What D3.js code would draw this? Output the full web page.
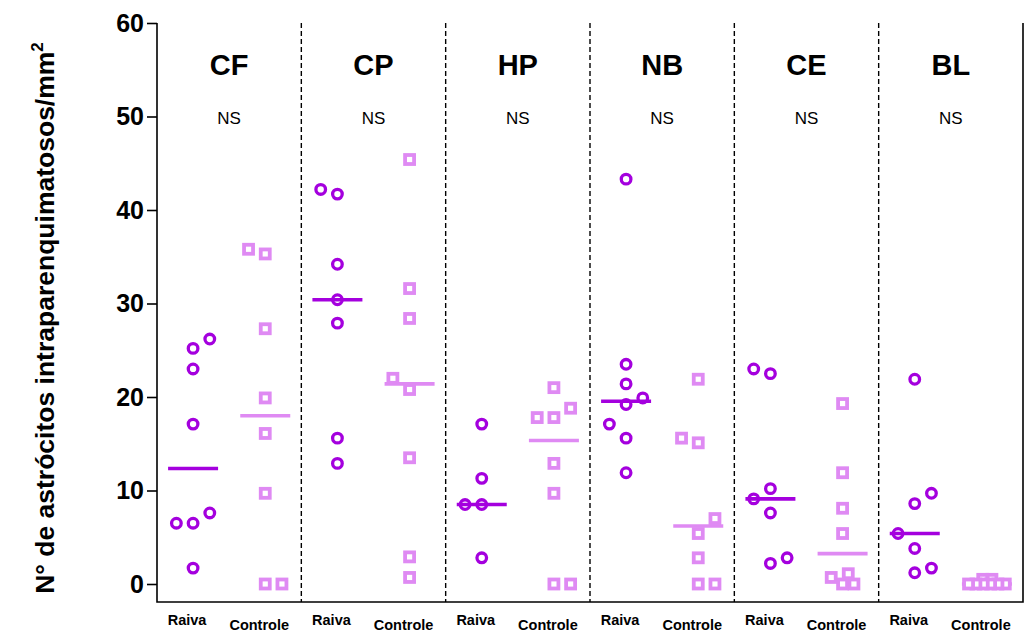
<!DOCTYPE html>
<html>
<head>
<meta charset="utf-8">
<script src="https://cdn.jsdelivr.net/npm/d3@7"></script>
<style>
  html, body { margin: 0; padding: 0; background: #fff; }
  svg { display: block; font-family: "Liberation Sans", Arial, sans-serif; }
</style>
</head>
<body>
<svg id="chart" width="1026" height="635"></svg>
<script>
// Brain regions and the two groups compared in each
const regions = ["CF", "CP", "HP", "NB", "CE", "BL"];
const groups = ["Raiva", "Controle"];
const significance = ["NS", "NS", "NS", "NS", "NS", "NS"];
const yTicks = [0, 10, 20, 30, 40, 50, 60];

// Intraparenchymal astrocytes per mm², one value per animal (Raiva group)
const raivaValues = [
  [1.7, 6.5, 6.5, 7.6, 17.1, 23.0, 25.2, 26.2],
  [12.9, 15.6, 27.9, 30.4, 34.2, 41.7, 42.2],
  [2.8, 8.5, 8.5, 11.3, 17.1],
  [11.9, 15.6, 17.1, 19.2, 19.9, 21.4, 23.5, 43.3],
  [2.2, 2.8, 7.6, 9.1, 10.2, 22.5, 23.0],
  [1.2, 1.7, 3.8, 5.4, 8.6, 9.7, 21.9]
];
// Column slot of each Raiva point in the scatter (to separate ties)
const raivaSlots = [
  [0, -1, 0, 1, 0, 0, 0, 1],
  [0, 0, 0, 0, 0, 0, -1],
  [0, -1, 0, 0, 0],
  [0, 0, -1, 0, 1, 0, 0, 0],
  [0, 1, 0, -1, 0, 0, -1],
  [0, 1, 0, -1, 0, 1, 0]
];

// Same measure for the Controle group
const controleValues = [
  [0, 0, 9.7, 16.1, 19.9, 27.3, 35.3, 35.8],
  [0.7, 2.9, 13.5, 20.8, 22.0, 28.4, 31.6, 45.4],
  [0, 0, 9.7, 12.9, 17.8, 17.8, 18.8, 21.0],
  [0, 0, 2.8, 5.4, 7.0, 15.1, 15.6, 21.9],
  [0, 0, 0.7, 1.1, 5.4, 8.1, 11.9, 19.3],
  [0, 0, 0, 0, 0, 0, 0.5, 0.5]
];
const controleSlots = [
  [0, 1, 0, 0, 0, 0, 0, -1],
  [0, 0, 0, 0, -1, 0, 0, 0],
  [0, 1, 0, 0, -1, 0, 1, 0],
  [0, 1, 0, 0, 1, 0, -1, 0],
  [0, 0.68, -0.68, 0.34, 0, 0, 0, 0],
  [-1.1, -0.66, -0.22, 0.22, 0.66, 1.1, -0.25, 0.3]
];

const colors = { Raiva: "#a400de", Controle: "#df8af3" };

const svg = d3.select("#chart");
const plotLeft = 157, plotRight = 1023, plotTop = 23, frameBottom = 602;

const y = d3.scaleLinear().domain([0, 60]).range([584, plotTop]);
// one column per region/group pair
const x = d3.scaleLinear().domain([-0.5, regions.length * 2 - 0.5]).range([plotLeft, plotRight]);
const slotWidth = 16.7;
const halfLine = 25;

// frame: left axis, bottom line, right border
svg.append("path")
  .attr("d", `M${plotLeft},${plotTop}V${frameBottom}H${plotRight}V${plotTop}`)
  .attr("fill", "none").attr("stroke", "#000").attr("stroke-width", 1.6);

// dashed separators between regions
svg.selectAll("line.sep").data(d3.range(1, regions.length)).join("line")
  .attr("class", "sep")
  .attr("x1", d => x(d * 2 - 0.5)).attr("x2", d => x(d * 2 - 0.5))
  .attr("y1", plotTop).attr("y2", frameBottom)
  .attr("stroke", "#000").attr("stroke-width", 1.4).attr("stroke-dasharray", "5,3");

// y axis
const yAxis = svg.append("g")
  .attr("transform", `translate(${plotLeft},0)`)
  .call(d3.axisLeft(y).tickValues(yTicks).tickSize(10).tickPadding(3).tickFormat(d3.format("d")));
yAxis.select(".domain").remove();
yAxis.selectAll(".tick line").attr("stroke", "#000").attr("stroke-width", 1.6);
yAxis.selectAll(".tick text")
  .attr("fill", "#000").attr("font-size", 25).attr("font-weight", "bold")
  .attr("font-family", "Liberation Sans, Arial, sans-serif");

// y title
const yTitle = svg.append("text")
  .attr("transform", "translate(54,318) rotate(-90)")
  .attr("text-anchor", "middle")
  .attr("font-size", 26.5).attr("font-weight", "bold").attr("fill", "#000");
yTitle.append("tspan").text("N° de astrócitos intraparenquimatosos/mm");
yTitle.append("tspan").attr("dy", -11).attr("font-size", 17).text("2");

// region titles and significance
regions.forEach((r, i) => {
  const cx = x(i * 2 + 0.5);
  svg.append("text").attr("x", cx).attr("y", 75)
    .attr("text-anchor", "middle").attr("font-size", 29).attr("font-weight", "bold")
    .text(r);
  svg.append("text").attr("x", cx).attr("y", 124)
    .attr("text-anchor", "middle").attr("font-size", 17)
    .text(significance[i]);
});

// group labels below the frame
regions.forEach((r, i) => {
  groups.forEach((g, j) => {
    svg.append("text").attr("x", x(i * 2 + j) - 6).attr("y", j === 0 ? 625 : 630)
      .attr("text-anchor", "middle").attr("font-size", 14.5).attr("font-weight", "bold")
      .text(g);
  });
});

// points and median lines
const seriesValues = [raivaValues, controleValues];
const seriesSlots = [raivaSlots, controleSlots];
regions.forEach((r, i) => {
  groups.forEach((g, j) => {
    const vals = seriesValues[j][i];
    const slots = seriesSlots[j][i];
    const cx = x(i * 2 + j);
    const med = d3.median(vals);
    const pts = vals.map((v, k) => ({ v, s: slots[k] }));
    const grp = svg.append("g");
    const drawMedian = () => grp.append("line")
      .attr("x1", cx - halfLine).attr("x2", cx + halfLine)
      .attr("y1", y(med)).attr("y2", y(med))
      .attr("stroke", colors[g]).attr("stroke-width", 3.6);
    if (g === "Raiva") {
      grp.selectAll("circle").data(pts).join("circle")
        .attr("cx", d => cx + d.s * slotWidth).attr("cy", d => y(d.v))
        .attr("r", 4.8).attr("fill", "none")
        .attr("stroke", colors[g]).attr("stroke-width", 3.3);
      drawMedian();
    } else {
      drawMedian();
      const side = 9;
      grp.selectAll("rect").data(pts.slice().reverse()).join("rect")
        .attr("x", d => cx + d.s * slotWidth - side / 2).attr("y", d => y(d.v) - side / 2)
        .attr("width", side).attr("height", side)
        .attr("fill", "#fff").attr("stroke", colors[g]).attr("stroke-width", 3.8);
    }
  });
});
</script>
</body>
</html>
